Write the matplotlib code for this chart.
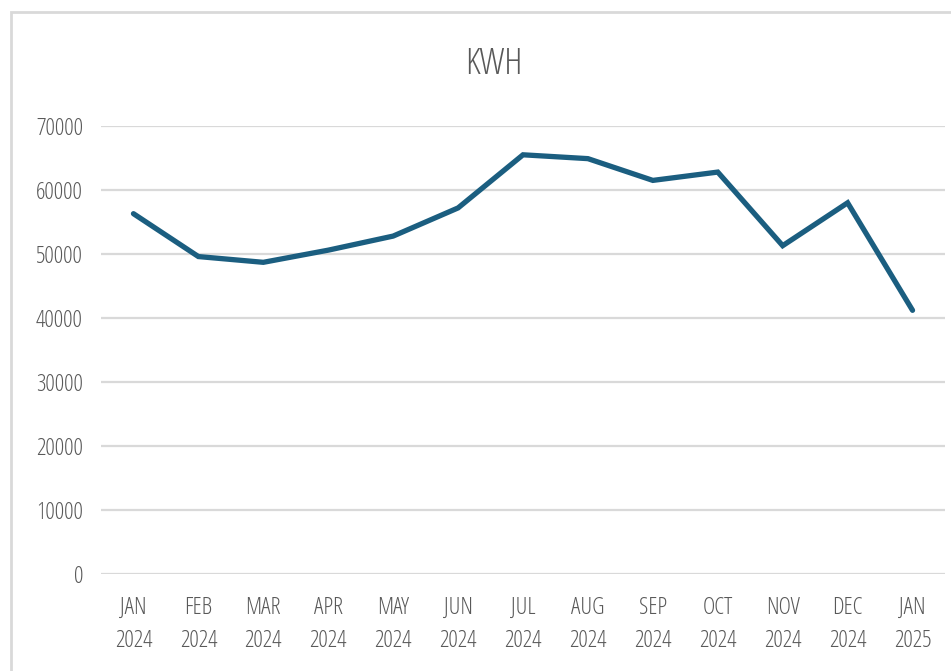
import matplotlib
matplotlib.use("Agg")
import matplotlib.pyplot as plt
from matplotlib.patches import Rectangle

months = ["JAN\n2024", "FEB\n2024", "MAR\n2024", "APR\n2024", "MAY\n2024", "JUN\n2024",
          "JUL\n2024", "AUG\n2024", "SEP\n2024", "OCT\n2024", "NOV\n2024", "DEC\n2024",
          "JAN\n2025"]
kwh = [56300, 49600, 48700, 50600, 52800, 57200, 65500, 64900, 61500, 62800, 51300, 58000, 41200]
yticks = [0, 10000, 20000, 30000, 40000, 50000, 60000, 70000]

plt.rcParams["font.family"] = ["Open Sans", "DejaVu Sans"]
plt.rcParams["font.stretch"] = "condensed"
plt.rcParams["font.weight"] = "light"

W, H = 951, 671
fig = plt.figure(figsize=(W / 100, H / 100), dpi=100)
fig.patch.set_facecolor("white")

# outer chart border (partially cropped)
fig.patches.append(Rectangle((11 / W, -0.05), 1.1, 1 - 12 / H + 0.05, transform=fig.transFigure,
                             fill=False, edgecolor="#d9d9d9", linewidth=2, zorder=0))

ax = fig.add_axes([101 / W, 97 / H, (945 - 101) / W, (574 - 126) / H])
x = list(range(len(months)))
ax.plot(x, kwh, color="#1b5e80", linewidth=3.8, solid_joinstyle="miter", solid_capstyle="round", zorder=3)

ax.set_xlim(-0.5, len(months) - 0.5)
ax.set_ylim(0, 70000)
ax.set_yticks(yticks)
ax.set_yticklabels([str(v) for v in yticks])
ax.set_xticks(x)
ax.set_xticklabels(months, linespacing=1.5)
ax.grid(axis="y", color="#d9d9d9", linewidth=1.6, zorder=0)
ax.set_axisbelow(True)
for s in ax.spines.values():
    s.set_visible(False)
ax.tick_params(axis="both", length=0, colors="#595959", labelsize=17)
ax.tick_params(axis="y", pad=13)
ax.tick_params(axis="x", pad=16)

fig.text(494 / W, 1 - 64 / H, "KWH", ha="center", va="center", fontsize=26, color="#595959")

fig.savefig("out.png", dpi=100, facecolor="white")
